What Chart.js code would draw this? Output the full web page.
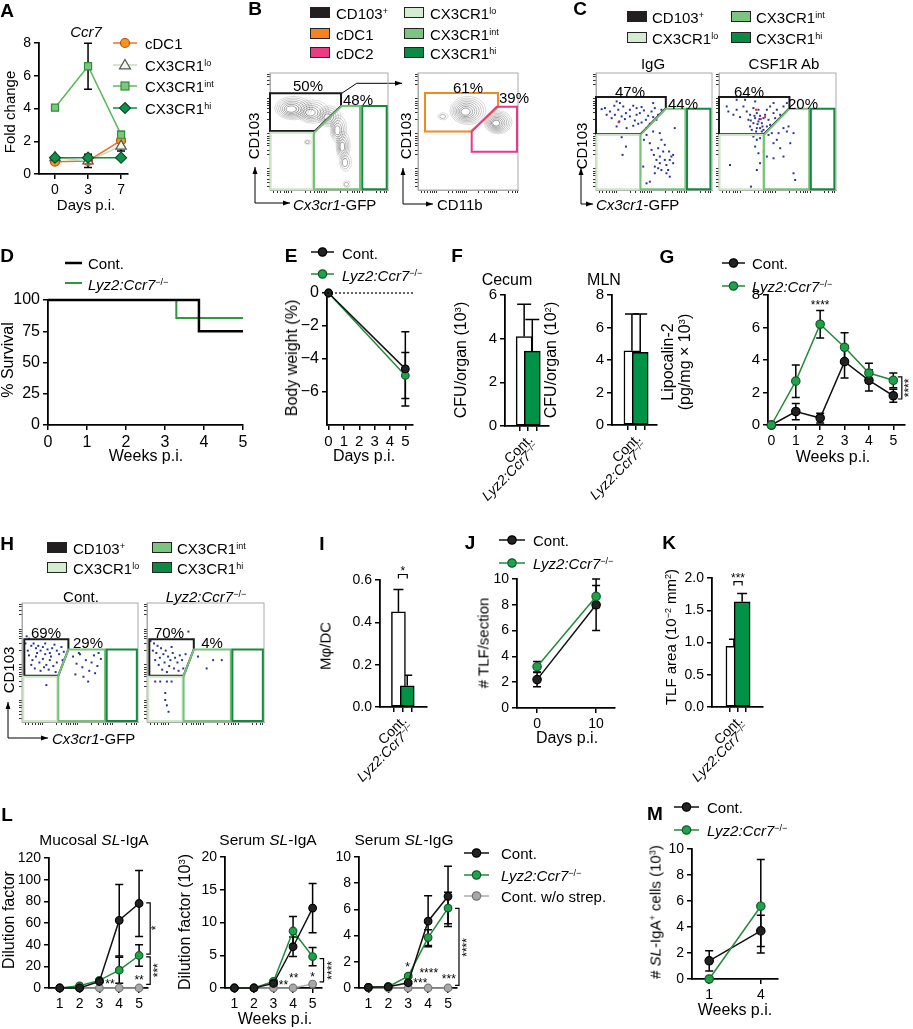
<!DOCTYPE html>
<html><head><meta charset="utf-8">
<script src="https://cdn.jsdelivr.net/npm/chart.js@4.4.0/dist/chart.umd.min.js"></script>
<style>
body{margin:0;background:#fff;}
#fig{position:relative;width:913px;height:1029px;overflow:hidden;font-family:"Liberation Sans",Arial,sans-serif;color:#000;}
#fig canvas{position:absolute;}
.t{position:absolute;white-space:nowrap;line-height:1;font-size:15px;}
.t sup{font-size:0.6em;vertical-align:0.55em;line-height:0;}
.sw{position:absolute;width:18px;height:9px;border:1.5px solid #222;}
</style></head><body><div id="fig"></div>
<script>
// ---- data ----
const daysA = ['0', '3', '7'];
const cdc1A = [0.75, 0.8, 2.05];
const cdc1ErrA = [0.05, 0.05, 0.1];
const loA = [1.0, 0.8, 1.7];
const loErrA = [0.05, 0.4, 0.3];
const intA = [4.05, 6.58, 2.4];
const intErrA = [0.1, 1.4, 0.2];
const hiA = [1.0, 1.0, 1.0];
const hiErrA = [0.05, 0.05, 0.05];

const survContWk = [0, 3.87, 5];
const survCont = [100, 75, 75];
const survKoWk = [0, 3.29, 5];
const survKo = [100, 85.7, 85.7];

const daysE = [0, 5];
const weightCont = [0, -4.6];
const weightContErr = [0, 2.25];
const weightKo = [0, -5.0];
const weightKoErr = [0, 1.4];

const groups = ['Cont.', '<i>Lyz2:Ccr7</i><sup>−/−</sup>'];
const cfuCecum = [4.1, 3.43];
const cfuCecumErr = [1.48, 1.45];
const cfuMln = [4.57, 4.47];
const cfuMlnErr = [2.26, 2.36];

const weeksG = [0, 1, 2, 3, 4, 5];
const lcnCont = [0, 0.83, 0.43, 3.9, 2.75, 1.8];
const lcnContErr = [0, 0.5, 0.3, 1.0, 0.65, 0.4];
const lcnKo = [0, 2.7, 6.2, 4.78, 3.2, 2.75];
const lcnKoErr = [0, 1.0, 0.85, 0.9, 0.6, 0.45];

const mphiDc = [0.45, 0.10];
const mphiDcErr = [0.105, 0.05];

const daysJ = [0, 10];
const tlfCont = [2.2, 8.0];
const tlfContErr = [0.55, 2.0];
const tlfKo = [3.2, 8.65];
const tlfKoErr = [0.4, 0.85];

const tlfArea = [0.94, 1.63];
const tlfAreaErr = [0.11, 0.13];

const weeksL = [1, 2, 3, 4, 5];
const mucCont = [0, 0, 6, 62.5, 78];
const mucContErr = [0, 0, 1, 33, 30.5];
const mucKo = [0, 2, 7, 16.5, 30];
const mucKoErr = [0, 0.5, 1, 12, 10];
const mucNs = [0, 0, 0, 0, 0];
const serACont = [0, 0, 0.7, 6.3, 12.2];
const serAContErr = [0, 0, 0.2, 1.5, 3.75];
const serAKo = [0, 0, 1.0, 8.7, 4.8];
const serAKoErr = [0, 0, 0.2, 2.2, 1.4];
const serANs = [0, 0, 0, 0, 0.6];
const serGCont = [0.05, 0.1, 0.4, 5.1, 7.0];
const serGContErr = [0, 0, 0.1, 1.95, 2.3];
const serGKo = [0.05, 0.1, 0.9, 3.85, 6.1];
const serGKoErr = [0, 0, 0.1, 0.6, 1.2];
const serGNs = [0, 0, 0, 0, 0];

const weeksM = [1, 4];
const cellsCont = [1.4, 3.7];
const cellsContErr = [0.78, 1.2];
const cellsKo = [0, 5.6];
const cellsKoErr = [0, 3.6];

// flow events, percent of axis range
const dotsIgG = [[4.9,69.1],[7.7,70],[12,67.1],[15.8,72],[17.8,75.7],[20.6,74.3],[23.5,71.4],[25.8,65.7],[29.2,68.6],[32.1,72],[35,70],[37.8,65.7],[41.3,68],[45,63.4],[47.9,67.1],[50.7,70],[53.6,64.3],[56.4,68.6],[20.1,58.6],[24.9,60.6],[29.2,62.9],[33.5,59.4],[36.4,56.6],[39.3,57.7],[43,60],[46.4,56.6],[49.3,62.3],[13.5,61.4],[9.2,64.3],[17.8,54.3],[26.4,52.9],[32.1,54.9],[43.6,52.9],[22.1,62.9],[35,64.3],[52.1,60],[16.3,64.3],[19.2,68.6],[39.3,70.9],[49.3,74.3],
  [22.1,45.1],[25.8,37.1],[22.9,30],[41.3,42.9],[43.6,47.1],[46.4,40],[47.9,34.3],[49.9,30],[52.1,25.7],[50.7,20],[53.6,35.7],[55,28.6],[57.9,32.9],[60.7,21.4],[62.2,17.1],[63.6,25.7],[65,28.6],[66.5,22.9],[59.3,38.6],[56.4,42.9],[67.9,52.9],[49.3,50],[55,48.6],[53.6,18.6],[60.7,14.3],[50.7,14.3],[40.7,20],[43.6,5.7],[46.4,7.1],[63.6,11.4],[66.5,30],[63,32.9],[55,22.9],[56.4,17.1],[59.3,25.7]];
const redIgG = [[19.5,58]];
const dotsCsf = [[6.6,71.4],[8,67.1],[12.3,64.3],[15.1,68.6],[18,62.3],[20.9,71.4],[23.7,67.1],[26.6,64.3],[29.4,70],[30.9,61.4],[32.3,65.7],[33.7,58.6],[35.1,63.4],[36.6,57.1],[38,61.4],[39.4,64.3],[40.9,54.3],[42.3,60],[29.4,57.1],[26.6,54.3],[32.3,52.9],[35.1,52.9],[38,51.4],[43.7,71.4],[46.6,74.3],[49.4,68.6],[52.3,64.3],[55.1,71.4],[58,74.3],[46.6,65.7],[15.1,77.1],[22.3,77.1],[30.9,75.7],[25.1,60],[33.7,68.6],[28,51.4],[36.6,50],[40.9,68.6],[43.7,55.7],[48,61.4],[32.9,56.3],[34.6,60.6],[30.3,63.4],[37.1,54.3],[27.1,59.4],[31.7,50],
  [29.4,45.7],[32.3,42.9],[35.1,44.3],[30.9,37.1],[33.7,31.4],[38,32.9],[40.9,28.6],[46.6,40],[49.4,42.9],[50.9,48.6],[55.1,52.9],[58,50],[59.4,54.3],[63.7,48.6],[52.3,35.7],[55.1,28.6],[60.9,40],[46.6,27.1],[9.4,21.4],[32.3,17.1],[35.1,22.9],[63.7,14.3],[65.1,8.6],[27.4,2.9],[42.3,47.1],[45.1,48.6]];
const redCsf = [[31.7,68.6],[39.4,62.3],[35.7,60.6]];
const dotsHCont = [[4,72],[6,70],[3,66],[8,64],[10,66],[12,62],[14,64],[16,60],[18,63],[20,66],[22,61],[24,58],[26,62],[28,65],[30,60],[32,57],[34,63],[36,59],[6,56],[9,52],[12,55],[15,50],[18,53],[21,48],[24,52],[27,47],[30,50],[11,45],[16,43],[20,57],[25,55],[5,60],[13,58],[19,46],[8,48],[23,44],[29,42],[35,52],[21,31],
  [44,55],[47,49],[50,57],[52,46],[55,52],[58,43],[60,50],[62,56],[65,47],[68,53],[46,40],[53,38],[57,34],[63,41],[49,58],[66,58]];
const dotsHKo = [[3,68],[6,66],[9,64],[5,60],[8,58],[12,62],[14,57],[11,54],[16,60],[18,55],[20,52],[22,58],[24,54],[26,50],[28,56],[15,50],[19,47],[23,45],[27,43],[10,48],[13,44],[30,52],[33,57],[35,48],[17,42],[7,52],[21,63],[31,45],[35.4,76],
  [43.6,55],[51,45],[56.5,52],[63.9,52],[7,34],[11.3,34],[17,34],[21,34],[15.6,24.4],[15.6,18.5],[17,14],[18.4,8.6]];

// gates (percent of axis range)
const gatesB1 = [[[0,82.6],[60.2,82.6],[60.2,71.8],[38.1,50.4],[0,50.4]], [[0.6,0.6],[36.2,0.6],[36.2,49],[0.6,49]], [[37.3,49],[60.7,71.8],[76.3,71.8],[76.3,0.6],[37.3,0.6]], [[78.2,0.6],[98.9,0.6],[98.9,71.8],[78.2,71.8]]];
const gatesB2 = [[[7,83],[80,83],[80,71],[52.6,50],[7,50]], [[53.7,49.9],[78.7,71.2],[99,71.2],[99,32.7],[53.7,32.7]]];
const gatesC = [[[0,79.4],[60.2,79.4],[60.2,70],[38.4,47.7],[0,47.7]], [[0.5,0.6],[37.8,0.6],[37.8,47.1],[0.5,47.1]], [[38.4,47.1],[60.2,69.4],[77.1,69.4],[77.1,0.6],[38.4,0.6]], [[78.5,0.6],[98.6,0.6],[98.6,69.4],[78.5,69.4]]];
const gatesH = [[[2,69.5],[40,69.5],[40,61],[31.3,38.9],[2,38.9]], [[1.1,0.8],[30.4,0.8],[30.4,38],[1.1,38]], [[31.3,38.9],[40,61],[71.6,61],[71.6,0.8],[31.3,0.8]], [[73,0.8],[99,0.8],[99,61],[73,61]]];
// density contours: centre x, centre y, radius x, radius y, levels
const blobsB1 = [[20,70,16,10,7],[36,67,14,10,6],[50,63,10,9,5],[58,52,7,12,5],[62,38,6,12,5],[64,24,5,8,3],[65,5,3,3,2],[32,41,3,2,2]];
const blobsB2 = [[50,68,18,12,8],[80,58,14,10,8],[25,63,5,3,2]];
const flowTicks = [3,6,9,12,14,16,18,30,34,38,40,42,44,46,48,60,66,70,72,74,76,78,90,94,97,99];

// ---- drawing ----
const FONT = '"Liberation Sans", Arial, sans-serif';
Chart.defaults.font.family = FONT;
Chart.defaults.font.size = 14;
Chart.defaults.color = '#000';

const GATE_COL = ['#1a1a1a', '#cbe7c3', '#78c17a', '#14893f'];
const BLK = {line: '#111', fill: '#222', stroke: '#000'};
const GRN = {line: '#23893a', fill: '#1ea24a', stroke: '#145c2c'};
const GRY = {line: '#aaa', fill: '#a8a8a8', stroke: '#777'};

const BOX = {
  A: {l: 39, t: 43, r: 128, b: 174},
  B1: {l: 270, t: 73, r: 388, b: 190}, B2: {l: 418, t: 73, r: 518, b: 190},
  C1: {l: 596, t: 73, r: 712, b: 190}, C2: {l: 719, t: 73, r: 836, b: 190},
  D: {l: 48, t: 300, r: 243, b: 425},
  E: {l: 327, t: 293, r: 413, b: 425},
  F1: {l: 505, t: 295, r: 549, b: 426}, F2: {l: 612, t: 295, r: 657, b: 425},
  G: {l: 768, t: 295, r: 905, b: 425},
  H1: {l: 22, t: 603, r: 138, b: 722}, H2: {l: 147, t: 603, r: 264, b: 722},
  I: {l: 380, t: 580, r: 427, b: 707},
  J: {l: 517, t: 579, r: 615, b: 708},
  K: {l: 712, t: 578, r: 763, b: 707},
  L1: {l: 49, t: 858, r: 148, b: 988}, L2: {l: 225, t: 857, r: 322, b: 988}, L3: {l: 359, t: 857, r: 457, b: 988},
  M: {l: 692, t: 849, r: 778, b: 979}
};

const fig = document.getElementById('fig');
const PL = 60, PT = 16, PR = 40, PB = 90;

const fmtNum = v => v < 0 ? '−' + Math.abs(v) : String(v);

const errorBars = {
  id: 'errorBars',
  beforeDatasetsDraw(chart) {
    const ctx = chart.ctx, ys = chart.scales.y, isBar = chart.config.type === 'bar';
    chart.data.datasets.forEach((ds, di) => {
      if (!ds.err) return;
      const meta = chart.getDatasetMeta(di);
      ctx.save();
      ctx.strokeStyle = '#000';
      ctx.lineWidth = 1.5;
      meta.data.forEach((el, i) => {
        const e = ds.err[i];
        if (!e) return;
        const v = ds.data[i].y, cw = ds.capW || 4;
        const top = ys.getPixelForValue(v + e);
        const bot = ys.getPixelForValue(isBar ? v : v - e);
        ctx.beginPath();
        ctx.moveTo(el.x, top); ctx.lineTo(el.x, bot);
        ctx.moveTo(el.x - cw, top); ctx.lineTo(el.x + cw, top);
        if (!isBar) { ctx.moveTo(el.x - cw, bot); ctx.lineTo(el.x + cw, bot); }
        ctx.stroke();
      });
      ctx.restore();
    });
  }
};

const marks = {
  id: 'marks',
  afterDatasetsDraw(chart, args, o) {
    const {ctx, chartArea: a} = chart, x = chart.scales.x, y = chart.scales.y;
    ctx.save();
    ctx.strokeStyle = '#000'; ctx.fillStyle = '#000'; ctx.lineWidth = 1.2;
    (o.hlines || []).forEach(h => {
      const py = y.getPixelForValue(h);
      ctx.setLineDash([2, 2]);
      ctx.beginPath(); ctx.moveTo(a.left, py); ctx.lineTo(a.right, py); ctx.stroke();
      ctx.setLineDash([]);
    });
    (o.vbr || []).forEach(b => {
      const px = x.getPixelForValue(b[0]), p1 = y.getPixelForValue(b[1]), p2 = y.getPixelForValue(b[2]);
      ctx.beginPath(); ctx.moveTo(px - 4, p1); ctx.lineTo(px, p1); ctx.lineTo(px, p2); ctx.lineTo(px - 4, p2); ctx.stroke();
    });
    (o.hbr || []).forEach(b => {
      const py = y.getPixelForValue(b[2]), p1 = x.getPixelForValue(b[0]), p2 = x.getPixelForValue(b[1]);
      ctx.beginPath(); ctx.moveTo(p1, py + 4); ctx.lineTo(p1, py); ctx.lineTo(p2, py); ctx.lineTo(p2, py + 4); ctx.stroke();
    });
    (o.stars || []).forEach(s => {
      ctx.save();
      ctx.translate(x.getPixelForValue(s[0]), y.getPixelForValue(s[1]));
      if (s[3]) ctx.rotate(-Math.PI / 2);
      ctx.font = '12px ' + FONT;
      ctx.textAlign = 'center'; ctx.textBaseline = 'middle';
      ctx.fillText(s[2], 0, 2);
      ctx.restore();
    });
    ctx.restore();
  }
};

const flow = {
  id: 'flow',
  beforeDatasetsDraw(chart, args, o) {
    if (!o.blobs) return;
    const ctx = chart.ctx, x = chart.scales.x, y = chart.scales.y;
    ctx.save();
    ctx.lineWidth = 0.7;
    o.blobs.forEach(b => {
      const n = b[4];
      for (let i = 0; i < n; i++) {
        const k = 1 - 0.85 * i / n;
        const px = x.getPixelForValue(b[0] - b[2] * 0.15 * i / n), py = y.getPixelForValue(b[1] - b[3] * 0.1 * i / n);
        const rx = Math.abs(x.getPixelForValue(b[2] * k) - x.getPixelForValue(0));
        const ry = Math.abs(y.getPixelForValue(b[3] * k) - y.getPixelForValue(0));
        ctx.strokeStyle = `rgba(50,50,50,${0.25 + 0.5 * i / n})`;
        ctx.beginPath(); ctx.ellipse(px, py, rx, ry, 0, 0, Math.PI * 2); ctx.stroke();
      }
    });
    ctx.restore();
  },
  afterDatasetsDraw(chart, args, o) {
    if (!o.gates) return;
    const {ctx, chartArea: a} = chart, x = chart.scales.x, y = chart.scales.y;
    ctx.save();
    ctx.strokeStyle = '#aaa'; ctx.lineWidth = 1;
    ctx.strokeRect(a.left, a.top, a.width, a.height);
    ctx.lineWidth = 2;
    o.gates.forEach((g, gi) => {
      ctx.beginPath();
      g.forEach((p, i) => {
        const px = x.getPixelForValue(p[0]), py = y.getPixelForValue(p[1]);
        i ? ctx.lineTo(px, py) : ctx.moveTo(px, py);
      });
      ctx.closePath();
      ctx.strokeStyle = o.colors[gi];
      ctx.stroke();
    });
    ctx.restore();
  }
};

function axisFit(s) {
  if (s.isHorizontal()) s.height = PB; else s.width = PL;
  s.paddingLeft = s.paddingRight = s.paddingTop = s.paddingBottom = 0;
}

function place(box, type, datasets, scales, plugins) {
  const cv = document.createElement('canvas');
  cv.width = box.r - box.l + PL + PR;
  cv.height = box.b - box.t + PT + PB;
  cv.style.left = (box.l - PL) + 'px';
  cv.style.top = (box.t - PT) + 'px';
  fig.appendChild(cv);
  scales.x.afterFit = axisFit;
  scales.y.afterFit = axisFit;
  const ch = new Chart(cv, {
    type, data: {datasets},
    options: {
      responsive: false, animation: false, devicePixelRatio: 1,
      layout: {padding: {left: 0, top: PT, right: PR, bottom: 0}},
      scales,
      plugins: Object.assign({legend: {display: false}, tooltip: {enabled: false}}, plugins || {})
    },
    plugins: [errorBars, marks, flow]
  });
  ch.ox = box.l - PL; ch.oy = box.t - PT;
  return ch;
}

const gridOpt = () => ({drawOnChartArea: false, drawTicks: true, tickLength: 5, color: '#000', lineWidth: 1.5});
function yAxis(min, max, step, fmt, vals, fs) {
  const s = {type: 'linear', min, max,
    ticks: {stepSize: step, padding: 3, callback: fmt || fmtNum, font: {size: fs || 14}},
    grid: gridOpt(), border: {color: '#000', width: 1.8}};
  if (vals) s.afterBuildTicks = sc => { sc.ticks = vals.map(v => ({value: v})); };
  return s;
}
function xAxis(min, max, vals, fs, labels) {
  return {type: 'linear', min, max,
    afterBuildTicks: sc => { sc.ticks = vals.map(v => ({value: v})); },
    ticks: {padding: 3, autoSkip: false, maxRotation: 0, font: {size: fs || 14},
      callback: (v, i) => labels ? labels[i] : fmtNum(v)},
    grid: gridOpt(), border: {color: '#000', width: 1.8}};
}
// group axis: tick marks only, slanted labels are placed as text afterwards
function groupAxis(min, max) {
  return {type: 'linear', min, max,
    afterBuildTicks: sc => { sc.ticks = groups.map((g, i) => ({value: i})); },
    ticks: {display: false},
    grid: gridOpt(), border: {color: '#000', width: 1.8}};
}
function flowAxis() {
  return {type: 'linear', min: 0, max: 100,
    afterBuildTicks: sc => { sc.ticks = flowTicks.map(v => ({value: v})); },
    ticks: {display: false},
    grid: {drawOnChartArea: false, drawTicks: true, tickLength: 3, color: '#333', lineWidth: 1},
    border: {color: '#aaa', width: 1}};
}
function series(xs, ys, err, st, extra) {
  return Object.assign({
    data: xs.map((v, i) => ({x: v, y: ys[i]})), err,
    borderColor: st.line, borderWidth: 1.5,
    pointBackgroundColor: st.fill, pointBorderColor: st.stroke, pointBorderWidth: 1.2,
    pointRadius: 4.2, clip: false
  }, extra || {});
}
function bars(vals, err, thick, cap) {
  return [{data: vals.map((v, i) => ({x: i, y: v})), err, capW: cap,
    backgroundColor: ['#fff', '#009245'], borderColor: '#000', borderWidth: 1.5,
    borderSkipped: false, barThickness: thick}];
}
function dots(pts, col) {
  return {data: pts.map(p => ({x: p[0], y: p[1]})), pointStyle: 'rect', pointRadius: 1.4,
    backgroundColor: col, borderColor: col, borderWidth: 0};
}

// ---- text helpers ----
function T(x, y, html, o = {}) {
  const d = document.createElement('div');
  d.className = 't';
  d.innerHTML = html;
  const tx = o.al === 'l' ? '0' : '-50%';
  d.style.left = x + 'px'; d.style.top = y + 'px';
  d.style.transform = `translate(${tx},-50%)` + (o.rot ? ' rotate(-90deg)' : '');
  if (o.s) d.style.fontSize = o.s + 'px';
  if (o.b) d.style.fontWeight = 'bold';
  fig.appendChild(d);
}
// slanted group labels, right end anchored below each tick
function slanted(ch) {
  const sx = ch.scales.x, base = ch.chartArea.bottom + ch.oy;
  groups.forEach((g, i) => {
    const d = document.createElement('div');
    d.className = 't';
    d.innerHTML = g;
    d.style.fontSize = '14px';
    d.style.left = (sx.getPixelForValue(i) + ch.ox + (i ? 5 : 6)) + 'px';
    d.style.top = (base + (i ? 19 : 11)) + 'px';
    d.style.transformOrigin = '100% 50%';
    d.style.transform = 'translate(-100%,-50%) rotate(-45deg)';
    fig.appendChild(d);
  });
}
function sw(x, cy, col) {
  const d = document.createElement('div');
  d.className = 'sw';
  d.style.left = x + 'px'; d.style.top = (cy - 6) + 'px'; d.style.background = col;
  fig.appendChild(d);
}
function lmark(cx, cy, st, o = {}) {
  const w = o.w || 24, h = 16, m = w / 2, c = h / 2, r = o.r || 4.2;
  let shp = '';
  const paint = `fill="${st.fill}" stroke="${st.stroke}" stroke-width="1.2"`;
  if (o.shape === 'none') shp = '';
  else if (o.shape === 'tri') shp = `<polygon points="${m},${c - r} ${m + r},${c + r * 0.7} ${m - r},${c + r * 0.7}" ${paint}/>`;
  else if (o.shape === 'sq') shp = `<rect x="${m - r}" y="${c - r}" width="${2 * r}" height="${2 * r}" ${paint}/>`;
  else if (o.shape === 'dia') shp = `<polygon points="${m},${c - r} ${m + r},${c} ${m},${c + r} ${m - r},${c}" ${paint}/>`;
  else shp = `<circle cx="${m}" cy="${c}" r="${r}" ${paint}/>`;
  const d = document.createElement('div');
  d.style.cssText = `position:absolute;left:${cx - m}px;top:${cy - c}px;width:${w}px;height:${h}px`;
  d.innerHTML = `<svg width="${w}" height="${h}"><line x1="0" y1="${c}" x2="${w}" y2="${c}" stroke="${st.line}" stroke-width="${o.lw || 1.5}"/>${shp}</svg>`;
  fig.appendChild(d);
}
const KO = '<i>Lyz2:Ccr7</i><sup>−/−</sup>';

// ---- axis arrows for flow plots ----
const deco = document.createElement('canvas');
deco.width = 913; deco.height = 1029; deco.style.left = '0px'; deco.style.top = '0px';
fig.appendChild(deco);
const dc = deco.getContext('2d');
function arrow(pts) {
  dc.strokeStyle = '#000'; dc.fillStyle = '#000'; dc.lineWidth = 1;
  dc.beginPath();
  pts.forEach((p, i) => i ? dc.lineTo(p[0], p[1]) : dc.moveTo(p[0], p[1]));
  dc.stroke();
  const [a, b] = pts.slice(-2);
  const ang = Math.atan2(b[1] - a[1], b[0] - a[0]);
  dc.beginPath();
  dc.moveTo(b[0], b[1]);
  dc.lineTo(b[0] - 7 * Math.cos(ang) + 2.5 * Math.sin(ang), b[1] - 7 * Math.sin(ang) - 2.5 * Math.cos(ang));
  dc.lineTo(b[0] - 7 * Math.cos(ang) - 2.5 * Math.sin(ang), b[1] - 7 * Math.sin(ang) + 2.5 * Math.cos(ang));
  dc.closePath(); dc.fill();
}
[[255, 203, 290], [403, 204, 433], [581, 204, 593], [8, 738, 48]].forEach(([x0, y0, x1]) => {
  arrow([[x0, y0], [x0, y0 - 36]]);
  arrow([[x0, y0], [x1, y0]]);
});
arrow([[341.7, 93.3], [356.7, 83.3], [402, 83.3]]);

// ---- A ----
place(BOX.A, 'line', [
  series([0, 1, 2], intA, intErrA, {line: '#5cb85c', fill: '#7dc67d', stroke: '#2f8f3a'}, {pointStyle: 'rect', pointRadius: 5}),
  series([0, 1, 2], hiA, hiErrA, {line: '#138a44', fill: '#13904a', stroke: '#0b4f27'}, {pointStyle: 'rectRot', pointRadius: 5.5}),
  series([0, 1, 2], loA, loErrA, {line: '#bfe0b5', fill: '#eef6ea', stroke: '#555'}, {pointStyle: 'triangle', pointRadius: 6}),
  series([0, 1, 2], cdc1A, cdc1ErrA, {line: '#f26f21', fill: '#f7941d', stroke: '#b5520c'}, {pointRadius: 4.5})
], {x: xAxis(-0.485, 2.21, [0, 1, 2], 14, daysA), y: yAxis(0, 8, 2)});

// ---- B ----
place(BOX.B1, 'scatter', [], {x: flowAxis(), y: flowAxis()}, {flow: {gates: gatesB1, colors: GATE_COL, blobs: blobsB1}});
place(BOX.B2, 'scatter', [], {x: flowAxis(), y: flowAxis()}, {flow: {gates: gatesB2, colors: ['#f08a24', '#e9378b'], blobs: blobsB2}});

// ---- C ----
place(BOX.C1, 'scatter', [dots(redIgG, '#e3242b'), dots(dotsIgG, '#25349a')], {x: flowAxis(), y: flowAxis()}, {flow: {gates: gatesC, colors: GATE_COL}});
place(BOX.C2, 'scatter', [dots(redCsf, '#e3242b'), dots(dotsCsf, '#25349a')], {x: flowAxis(), y: flowAxis()}, {flow: {gates: gatesC, colors: GATE_COL}});

// ---- D ----
place(BOX.D, 'line', [
  {data: survContWk.map((w, i) => ({x: w, y: survCont[i]})), stepped: 'before', borderColor: '#000', borderWidth: 2.5, pointRadius: 0, clip: false},
  {data: survKoWk.map((w, i) => ({x: w, y: survKo[i]})), stepped: 'before', borderColor: '#2a9a3a', borderWidth: 2, pointRadius: 0, clip: false}
], {x: xAxis(0, 5, [0, 1, 2, 3, 4, 5], 16), y: yAxis(0, 100, 25, null, null, 16)});

// ---- E ----
place(BOX.E, 'line', [
  series(daysE, weightCont, weightContErr, BLK, {pointRadius: 3.8}),
  series(daysE, weightKo, weightKoErr, GRN, {pointRadius: 3.8})
], {x: xAxis(-0.1, 5.5, [0, 1, 2, 3, 4, 5], 15), y: yAxis(-8, 0, 2, null, [0, -2, -4, -6], 16)}, {marks: {hlines: [0]}});

// ---- F ----
slanted(place(BOX.F1, 'bar', bars(cfuCecum, cfuCecumErr, 16, 7), {x: groupAxis(-1, 1.7), y: yAxis(0, 6, 2, null, null, 15)}));
slanted(place(BOX.F2, 'bar', bars(cfuMln, cfuMlnErr, 16, 7), {x: groupAxis(-1.05, 1.67), y: yAxis(0, 8, 2, null, null, 15)}));

// ---- G ----
place(BOX.G, 'line', [
  series(weeksG, lcnKo, lcnKoErr, GRN),
  series(weeksG, lcnCont, lcnContErr, BLK)
], {x: xAxis(-0.14, 5.48, weeksG), y: yAxis(0, 8, 2, null, null, 15)},
{marks: {stars: [[2, 7.45, '****'], [5.6, 2.28, '****', 1]], vbr: [[5.35, 2.96, 1.6]]}});

// ---- H ----
place(BOX.H1, 'scatter', [dots(dotsHCont, '#25349a')], {x: flowAxis(), y: flowAxis()}, {flow: {gates: gatesH, colors: GATE_COL}});
place(BOX.H2, 'scatter', [dots(dotsHKo, '#25349a')], {x: flowAxis(), y: flowAxis()}, {flow: {gates: gatesH, colors: GATE_COL}});

// ---- I ----
slanted(place(BOX.I, 'bar', bars(mphiDc, mphiDcErr, 14, 5), {x: groupAxis(-0.76, 1.91), y: yAxis(0, 0.6, 0.2, v => v.toFixed(1))},
  {marks: {stars: [[0.5, 0.648, '*']], hbr: [[0, 1, 0.626]]}}));

// ---- J ----
place(BOX.J, 'line', [
  series(daysJ, tlfKo, tlfKoErr, GRN),
  series(daysJ, tlfCont, tlfContErr, BLK)
], {x: xAxis(-3.4, 13.2, daysJ), y: yAxis(0, 10, 2)});

// ---- K ----
slanted(place(BOX.K, 'bar', bars(tlfArea, tlfAreaErr, 16, 5), {x: groupAxis(-1.12, 1.99), y: yAxis(0, 2, 0.5, v => v.toFixed(1))},
  {marks: {stars: [[0.5, 2.02, '***']], hbr: [[0, 1, 1.944]]}}));

// ---- L ----
place(BOX.L1, 'line', [
  series(weeksL, mucCont, mucContErr, BLK, {pointRadius: 3.8}),
  series(weeksL, mucKo, mucKoErr, GRN, {pointRadius: 3.8}),
  series(weeksL, mucNs, null, GRY, {pointRadius: 3.8})
], {x: xAxis(0.46, 5.45, weeksL), y: yAxis(0, 120, 20)},
{marks: {stars: [[3.53, 5, '**'], [5, 9, '**'], [5.81, 55.5, '*', 1], [5.91, 16.4, '***', 1]], vbr: [[5.56, 78.6, 31.3], [5.56, 28.8, 3.4]]}});
place(BOX.L2, 'line', [
  series(weeksL, serACont, serAContErr, BLK, {pointRadius: 3.8}),
  series(weeksL, serAKo, serAKoErr, GRN, {pointRadius: 3.8}),
  series(weeksL, serANs, null, GRY, {pointRadius: 3.8})
], {x: xAxis(0.52, 5.48, weeksL), y: yAxis(0, 20, 5)},
{marks: {stars: [[3.51, 0.7, '**'], [4.03, 1.7, '**'], [5, 1.95, '*'], [5.9, 2.7, '****', 1]], vbr: [[5.56, 4.5, 0.92]]}});
place(BOX.L3, 'line', [
  series(weeksL, serGCont, serGContErr, BLK, {pointRadius: 3.8}),
  series(weeksL, serGKo, serGKoErr, GRN, {pointRadius: 3.8}),
  series(weeksL, serGNs, null, GRY, {pointRadius: 3.8})
], {x: xAxis(0.53, 5.45, weeksL), y: yAxis(0, 10, 2)},
{marks: {stars: [[2.97, 1.74, '*'], [4.03, 1.23, '****'], [3.61, 0.51, '***'], [5.04, 0.82, '***'], [5.88, 3.1, '****', 1]], vbr: [[5.55, 6.08, 0.2]]}});

// ---- M ----
place(BOX.M, 'line', [
  series(weeksM, cellsKo, cellsKoErr, GRN),
  series(weeksM, cellsCont, cellsContErr, BLK)
], {x: xAxis(0, 5, weeksM), y: yAxis(0, 10, 2)});

// ---- text ----
[['A', 7, 10], ['B', 255, 8], ['C', 580, 8], ['D', 7, 255], ['E', 291, 255], ['F', 457, 255], ['G', 667, 256],
 ['H', 7, 543], ['I', 322, 543], ['J', 470, 542], ['K', 669, 542], ['L', 7, 814], ['M', 655, 813]]
  .forEach(([s, x, y]) => T(x, y, s, {s: 19, b: 1}));

T(86, 31, '<i>Ccr7</i>');
T(9, 112, 'Fold change', {rot: 1});
T(86, 204, 'Days p.i.');
lmark(125, 43, {line: '#f26f21', fill: '#f7941d', stroke: '#b5520c'}, {r: 4.5});
lmark(125, 65, {line: '#bfe0b5', fill: '#eef6ea', stroke: '#555'}, {shape: 'tri', r: 5.5});
lmark(125, 86, {line: '#5cb85c', fill: '#7dc67d', stroke: '#2f8f3a'}, {shape: 'sq', r: 4});
lmark(125, 108, {line: '#138a44', fill: '#13904a', stroke: '#0b4f27'}, {shape: 'dia', r: 5.5});
T(145, 43, 'cDC1', {al: 'l'});
T(145, 65, 'CX3CR1<sup>lo</sup>', {al: 'l'});
T(145, 86, 'CX3CR1<sup>int</sup>', {al: 'l'});
T(145, 108, 'CX3CR1<sup>hi</sup>', {al: 'l'});

// B
sw(310, 13, '#231f20'); T(336, 13, 'CD103<sup>+</sup>', {al: 'l'});
sw(310, 34, '#f58220'); T(336, 34, 'cDC1', {al: 'l'});
sw(310, 53, '#ec3b83'); T(336, 53, 'cDC2', {al: 'l'});
sw(404, 13, '#d4ecd0'); T(430, 13, 'CX3CR1<sup>lo</sup>', {al: 'l'});
sw(404, 34, '#7cc47f'); T(430, 34, 'CX3CR1<sup>int</sup>', {al: 'l'});
sw(404, 53, '#0b8a43'); T(430, 53, 'CX3CR1<sup>hi</sup>', {al: 'l'});
T(308, 85, '50%'); T(358, 99, '48%'); T(468, 87, '61%'); T(514, 97, '39%');
T(253, 136, 'CD103', {rot: 1}); T(405, 136, 'CD103', {rot: 1});
T(293, 204, '<i>Cx3cr1</i>-GFP', {al: 'l'});
T(437, 204, 'CD11b', {al: 'l'});

// C
sw(627, 17, '#231f20'); T(652, 17, 'CD103<sup>+</sup>', {al: 'l'});
sw(627, 37.5, '#d4ecd0'); T(652, 37.5, 'CX3CR1<sup>lo</sup>', {al: 'l'});
sw(731, 17, '#7cc47f'); T(756, 17, 'CX3CR1<sup>int</sup>', {al: 'l'});
sw(731, 37.5, '#0b8a43'); T(756, 37.5, 'CX3CR1<sup>hi</sup>', {al: 'l'});
T(653, 63, 'IgG'); T(784, 63, 'CSF1R Ab');
T(630, 91, '47%'); T(683, 103, '44%'); T(749, 91, '64%'); T(803, 103, '20%');
T(581, 146, 'CD103', {rot: 1});
T(596, 204, '<i>Cx3cr1</i>-GFP', {al: 'l'});

// D
lmark(73, 263, {line: '#000'}, {shape: 'none', w: 17, lw: 2.5});
lmark(73, 283, {line: '#2a9a3a'}, {shape: 'none', w: 17, lw: 2});
T(88, 263, 'Cont.', {al: 'l'}); T(88, 284, KO, {al: 'l'});
T(8, 360, '% Survival', {rot: 1, s: 16});
T(146, 456, 'Weeks p.i.', {s: 16});

// E
lmark(322, 252, BLK, {w: 23}); lmark(322, 274, GRN, {w: 23});
T(342, 253, 'Cont.', {al: 'l'}); T(342, 275, KO, {al: 'l'});
T(292, 358, 'Body weight (%)', {rot: 1, s: 16});
T(364, 456, 'Days p.i.', {s: 16});

// F
T(507, 280, 'Cecum', {s: 16}); T(604, 280, 'MLN', {s: 16});
T(461, 360, 'CFU/organ (10<sup>3</sup>)', {rot: 1, s: 16});
T(551, 360, 'CFU/organ (10<sup>2</sup>)', {rot: 1, s: 16});

// G
lmark(733, 263, BLK, {w: 23}); lmark(733, 286, GRN, {w: 23});
T(752, 263, 'Cont.', {al: 'l'}); T(752, 286, KO, {al: 'l'});
T(668, 362, 'Lipocalin-2', {rot: 1, s: 16});
T(685, 362, '(pg/mg × 10<sup>3</sup>)', {rot: 1, s: 16});
T(833, 457, 'Weeks p.i.', {s: 16});

// H
sw(47, 548, '#231f20'); T(73, 548, 'CD103<sup>+</sup>', {al: 'l'});
sw(47, 568, '#d4ecd0'); T(73, 568, 'CX3CR1<sup>lo</sup>', {al: 'l'});
sw(152, 548, '#7cc47f'); T(177, 548, 'CX3CR1<sup>int</sup>', {al: 'l'});
sw(152, 568, '#0b8a43'); T(177, 568, 'CX3CR1<sup>hi</sup>', {al: 'l'});
T(81, 596, 'Cont.'); T(206, 596, KO);
T(46, 632, '69%'); T(88, 642, '29%'); T(169, 632, '70%'); T(212, 642, '4%');
T(8, 670, 'CD103', {rot: 1});
T(52, 738, '<i>Cx3cr1</i>-GFP', {al: 'l'});

// I
T(325, 646, 'Mφ/DC', {rot: 1});

// J
lmark(512, 540, BLK, {w: 26}); lmark(512, 563, GRN, {w: 26});
T(533, 540, 'Cont.', {al: 'l'}); T(533, 563, KO, {al: 'l'});
T(483, 643, '# TLF/section', {rot: 1});
T(567, 738, 'Days p.i.', {s: 16});

// K
T(670, 637, 'TLF area (10<sup>−2</sup> mm<sup>2</sup>)', {rot: 1});

// L
T(94, 840, 'Mucosal <i>SL</i>-IgA', {s: 15.5});
T(268, 840, 'Serum <i>SL</i>-IgA', {s: 15.5});
T(404, 840, 'Serum <i>SL</i>-IgG', {s: 15.5});
T(9, 920, 'Dilution factor', {rot: 1, s: 16});
T(185, 922, 'Dilution factor (10<sup>3</sup>)', {rot: 1, s: 16});
T(275, 1019, 'Weeks p.i.', {s: 16});
lmark(476, 853, BLK, {w: 25}); lmark(476, 875, GRN, {w: 25}); lmark(476, 896, GRY, {w: 25});
T(501, 853, 'Cont.', {al: 'l'}); T(501, 875, KO, {al: 'l'}); T(501, 896, 'Cont. w/o strep.', {al: 'l'});

// M
lmark(686, 807, BLK, {w: 25}); lmark(686, 830, GRN, {w: 25});
T(707, 807, 'Cont.', {al: 'l'}); T(707, 830, KO, {al: 'l'});
T(655, 912, '# <i>SL</i>-IgA<sup>+</sup> cells (10<sup>3</sup>)', {rot: 1});
T(735, 1010, 'Weeks p.i.', {s: 16});
</script></body></html>
